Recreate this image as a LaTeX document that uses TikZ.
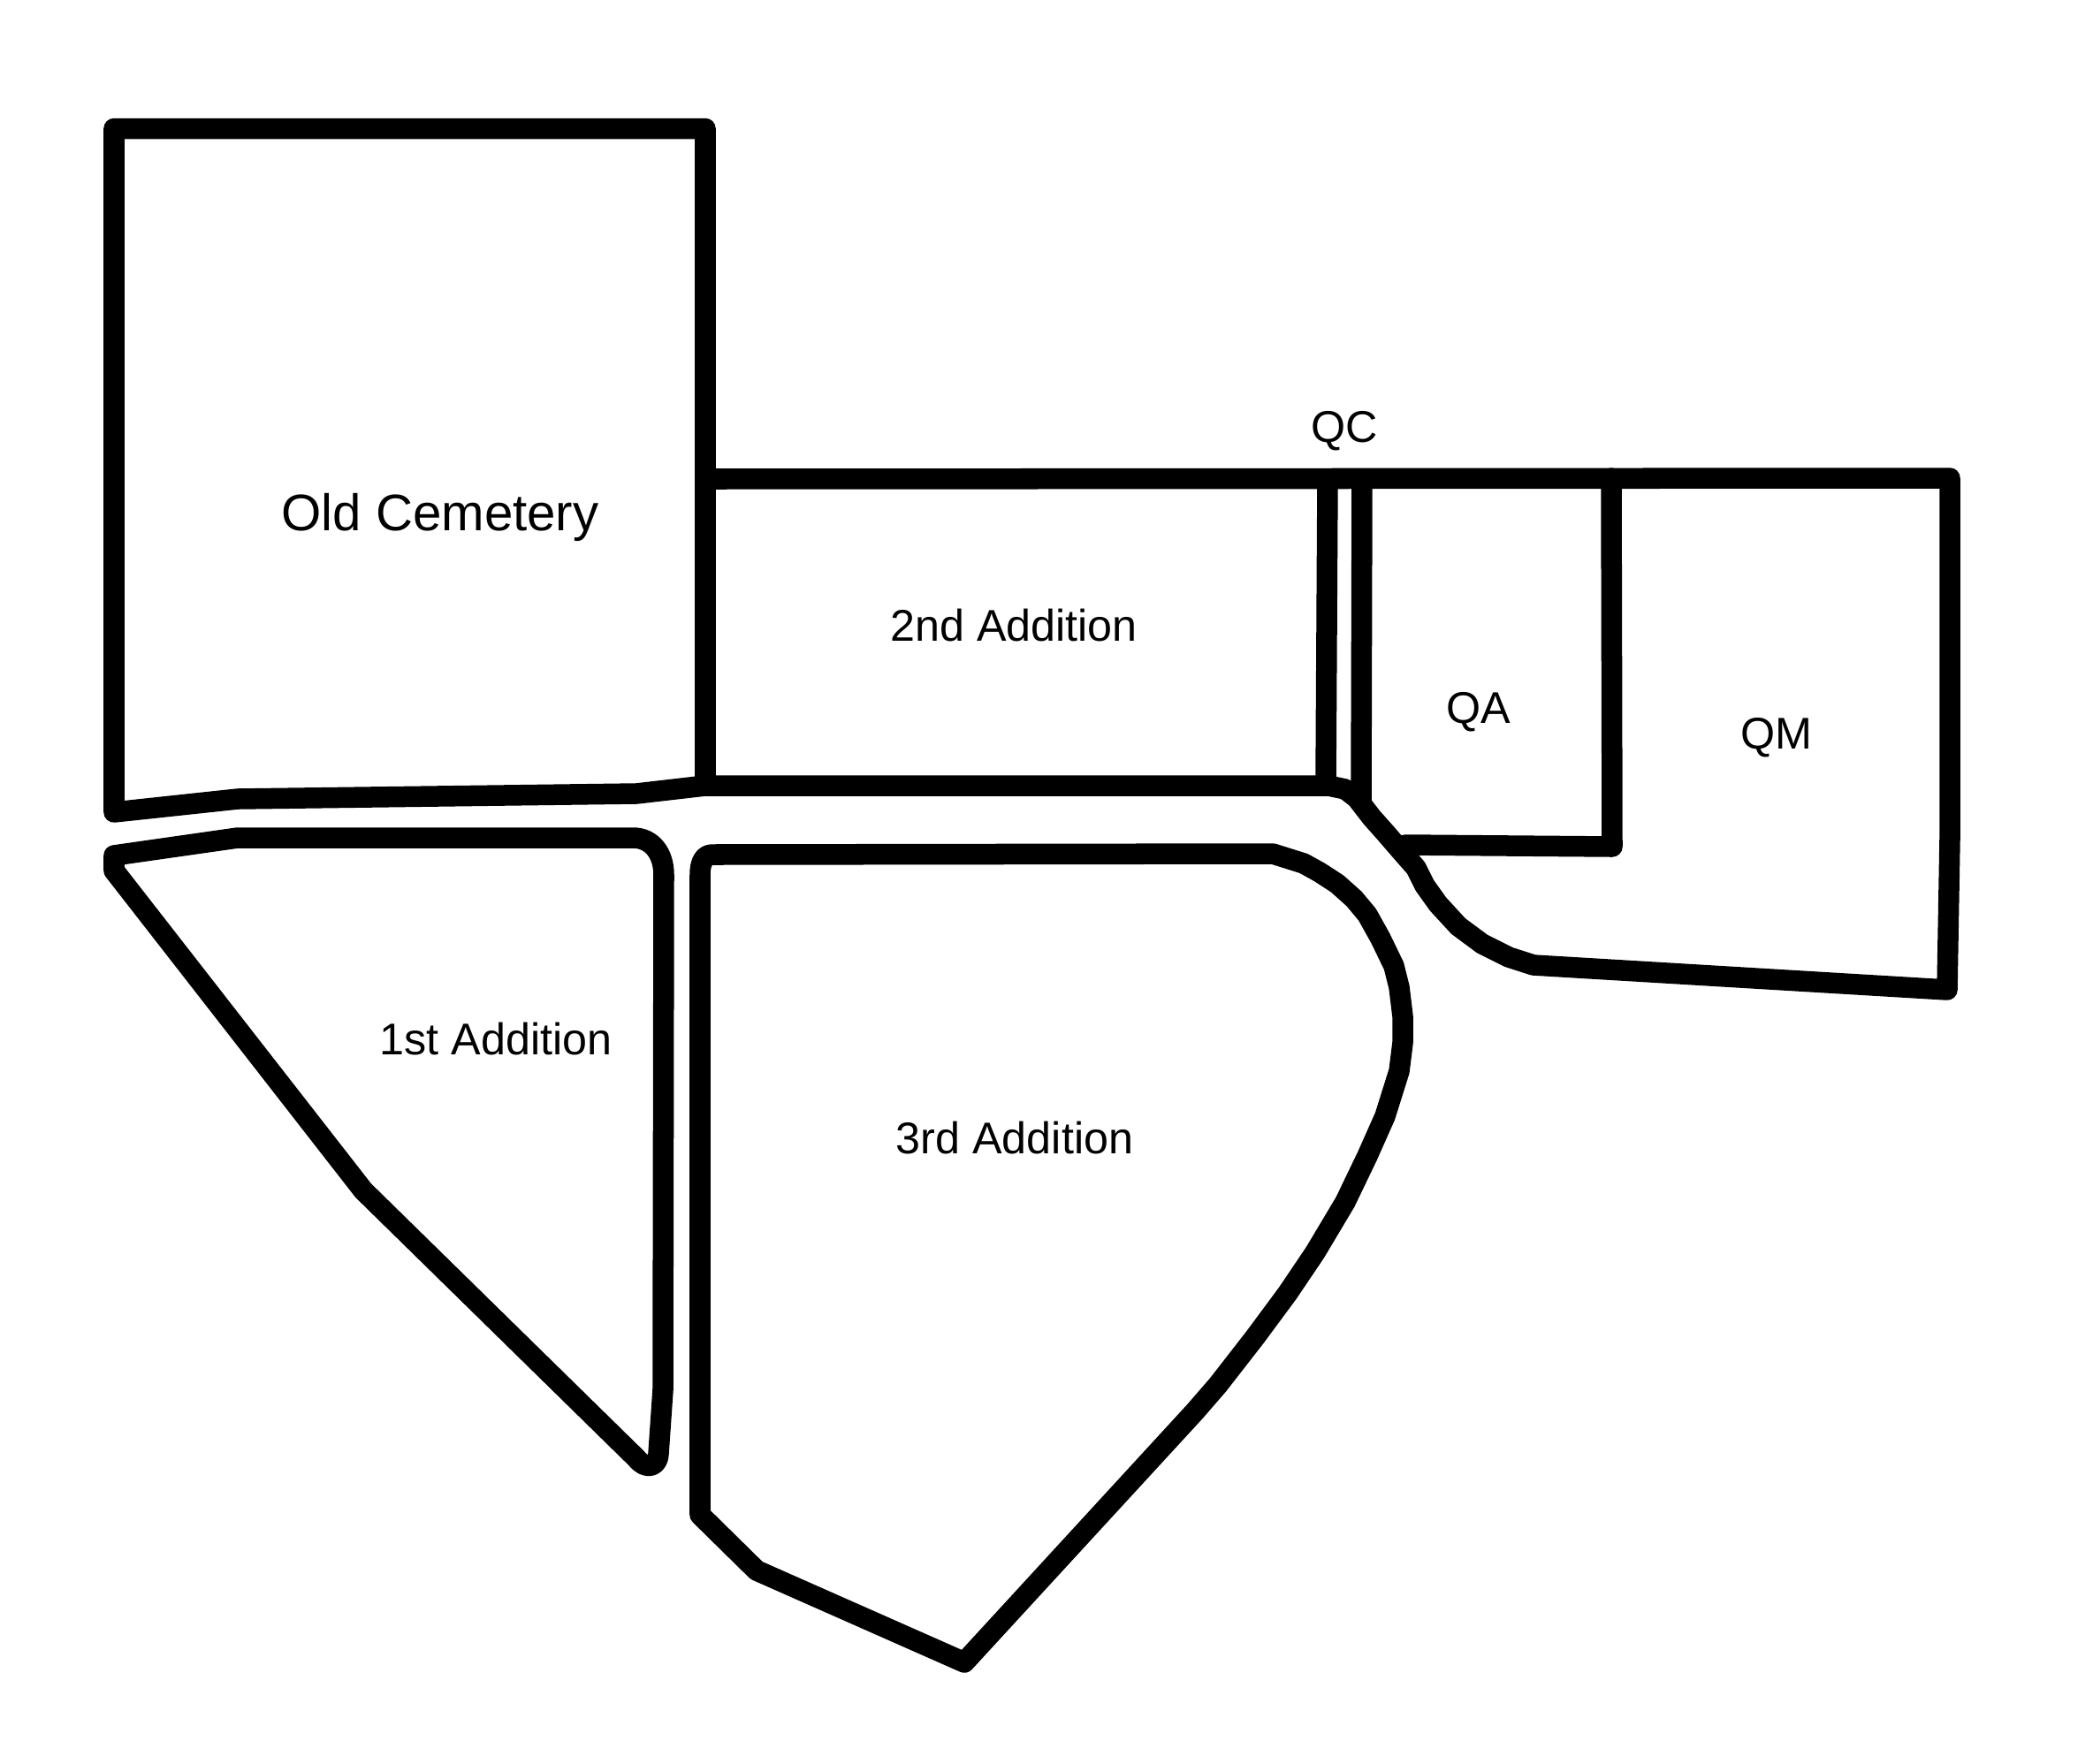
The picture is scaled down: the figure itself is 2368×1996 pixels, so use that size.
\documentclass[tikz,border=0pt]{standalone}
\usepackage{fontspec}
\setmainfont{Liberation Sans}
\tikzset{
  plotline/.style={line width=0.235cm,line join=round,line cap=round,draw=black},
  biglabel/.style={font=\fontsize{16.55pt}{18pt}\selectfont,inner sep=0pt,anchor=base},
  smalllabel/.style={font=\fontsize{14.3pt}{16pt}\selectfont,inner sep=0pt,anchor=base}
}
\begin{document}
\begin{tikzpicture}[x=0.01cm,y=-0.01cm]
\useasboundingbox[fill=white] (0,0) rectangle (2368,1996);
% Old Cemetery
\draw[plotline] (798,145.5) -- (129,145.5) -- (129,919) -- (269,904) -- (720,898) -- (798,889) -- cycle;
% 2nd Addition, QC, QA, QM outline
\draw[plotline] (798,889) -- (1503,889) -- (1522,893) -- (1535,903) -- (1552,925) -- (1568,943) -- (1587,965)
  -- (1602,982) -- (1612,1002) -- (1627,1023) -- (1650,1048) -- (1677,1068) -- (1707,1083) -- (1735,1092)
  -- (2203,1120) -- (2206,950) -- (2206,541) -- (798,542);
% dividers
\draw[plotline] (1502,542) -- (1500,889);
\draw[plotline] (1541,542) -- (1540,908);
\draw[plotline] (1823,541) -- (1824,958) -- (1590,956);
% 1st Addition
\draw[plotline] (129,968) -- (269,948) -- (716,948) .. controls (738,948) and (751,966) .. (751,990)
  -- (750,1573) -- (745,1645) .. controls (744,1661) and (730,1663) .. (720,1650)
  -- (411,1347) -- (129,985) -- cycle;
% 3rd Addition
\draw[plotline] (792,990) .. controls (792,975) and (797,967) .. (806,967) -- (1440,966) -- (1475,977)
  -- (1493,987) -- (1513,1000) -- (1532,1017) -- (1547,1035) -- (1562,1062) -- (1577,1093) -- (1583,1117)
  -- (1587,1150) -- (1587,1180) -- (1583,1212) -- (1567,1263) -- (1547,1308) -- (1522,1360) -- (1488,1417)
  -- (1457,1463) -- (1420,1513) -- (1378,1567) -- (1352,1597) -- (1091,1881)
  -- (856,1777) -- (792,1714) -- cycle;
% labels
\node[biglabel] (old) at (498,600) {Old Cemetery};
\node[smalllabel] (qc) at (1521,500) {QC};
\node[smalllabel] (second) at (1147,725.5) {2nd Addition};
\node[smalllabel] (qa) at (1673,818) {QA};
\node[smalllabel] (qm) at (2010,847) {QM};
\node[smalllabel] (first) at (561,1193.5) {1st Addition};
\node[smalllabel] (third) at (1148,1305.5) {3rd Addition};
\end{tikzpicture}
\end{document}
